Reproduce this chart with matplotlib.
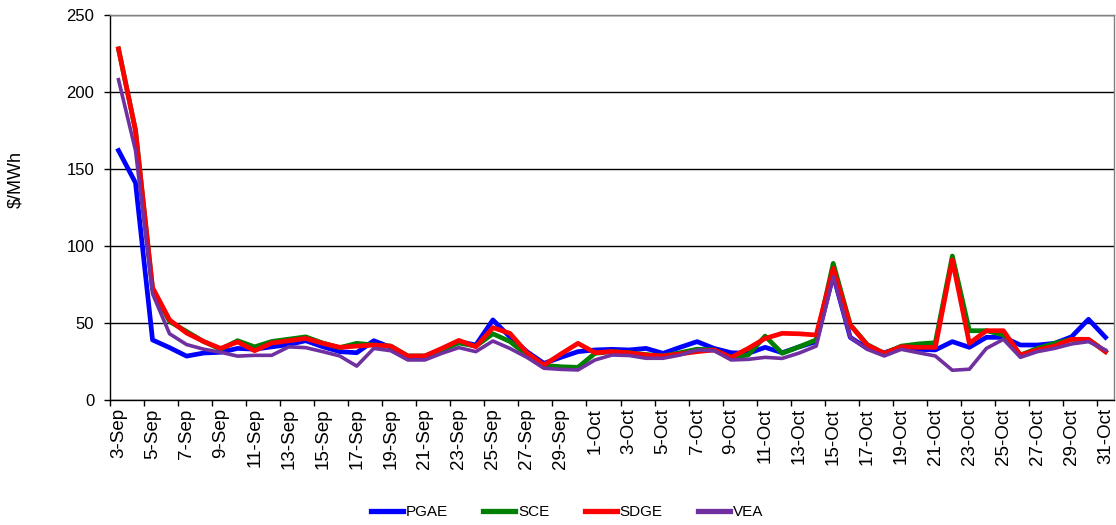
import numpy as np
import matplotlib
matplotlib.use('Agg')
import matplotlib.pyplot as plt
from matplotlib.ticker import FixedLocator

plt.rcParams['font.family'] = ['Liberation Sans', 'DejaVu Sans']

# daily dates, 3-Sep .. 31-Oct
dates = [f'{d}-Sep' for d in range(3, 31)] + [f'{d}-Oct' for d in range(1, 32)]

pgae = [162, 141, 39, 34, 28.5, 30.5, 31, 33.5, 33, 34.5, 36, 38.5, 34.6, 31.4, 30.7,
        38.5, 34.2, 28, 28, 33, 38, 35.7, 52, 41, 31.4, 23.8, 27.7, 31.4, 32.5, 32.9,
        32.5, 33.5, 30.3, 34.2, 37.9, 33.5, 30.7, 30.3, 34.2, 30.7, 34.5, 37.9, 81, 40.7,
        33.5, 30.7, 34.2, 32.9, 32.5, 37.9, 34.2, 40.7, 40.7, 35.7, 35.7, 36.8, 41, 52.4, 40.7]
sce = [228, 175, 72, 51, 44.5, 38, 33, 38.5, 34.5, 38, 39.5, 41, 37, 34, 36.8,
       35.7, 35, 28.6, 28.6, 32.5, 37, 35, 43, 38, 29.2, 22.5, 21.6, 21.2, 30.3, 31.4,
       30.7, 29.5, 28.6, 30.7, 33, 32.5, 27.7, 29.2, 41.5, 30.3, 34.6, 39, 88.7, 48.9,
       36, 30.3, 35, 36.4, 37.2, 93.5, 45, 45, 42.2, 29.2, 33.5, 36.8, 39.4, 39.4, 31.4]
sdge = [228, 175, 73, 52, 43.5, 38, 33.5, 37.7, 32, 37, 38.5, 40, 36.8, 34.2, 35,
        35.7, 35, 28.6, 28.6, 33.5, 38.7, 34.6, 47, 43.3, 30.7, 22.7, 29.9, 36.8, 30.7, 31.4,
        30.7, 29.2, 28.6, 29.9, 31.4, 32.5, 27.7, 33.5, 40, 43.3, 43, 42.2, 85.5, 48.7,
        35.7, 30.3, 34.6, 34.2, 34.2, 91, 36.8, 45, 45, 29.2, 32.5, 35, 39.4, 39.4, 31.4]
vea = [208, 162, 69, 43, 36, 33, 31, 28.5, 29, 29, 34.5, 34, 31.4, 28.6, 22,
       33.5, 32, 26, 26, 30.3, 34, 31.4, 38.3, 33.5, 27.7, 20.6, 19.9, 19.5, 26, 29.2,
       28.9, 27.1, 27.1, 29.2, 32.5, 32, 26, 26.4, 27.7, 27, 30.5, 35, 80, 40.7,
       32.9, 28.6, 32.9, 30.7, 28.6, 19.3, 20, 33.5, 39.4, 27.7, 31.4, 33.5, 36.4, 37.9, 32.5]

fig = plt.figure(figsize=(11.16, 5.25), dpi=100)
ax = fig.add_axes([110/1116, 1 - 400/525, 1004/1116, 385/525])

x = np.arange(len(dates))
ax.plot(x, pgae, color='#0000FF', lw=3.4, label='PGAE')
ax.plot(x, sce, color='#008000', lw=3.4, label='SCE')
ax.plot(x, sdge, color='#FF0000', lw=3.4, label='SDGE')
ax.plot(x, vea, color='#7030A0', lw=2.6, label='VEA')

ax.set_xlim(-0.5, len(dates) - 0.5)
ax.set_ylim(0, 250)
ax.set_yticks(range(0, 251, 50))
ax.yaxis.grid(True, color='black', lw=1.0)
ax.set_axisbelow(True)
ax.tick_params(axis='y', labelsize=12, length=4.3, width=1, direction='out', pad=7)
ax.set_ylabel('$/MWh', fontsize=13)
ax.yaxis.set_label_coords(-(110 - 24)/1004, (400 - 180)/385)

# ticks at category boundaries, labels at category centres
ax.xaxis.set_major_locator(FixedLocator(np.arange(-0.5, len(dates) - 1, 2)))
ax.xaxis.set_minor_locator(FixedLocator(x[::2]))
ax.set_xticklabels([], minor=False)
ax.set_xticklabels(dates[::2], minor=True, rotation=90, fontsize=13.5)
ax.tick_params(axis='x', which='major', length=4, width=1, direction='out')
ax.tick_params(axis='x', which='minor', length=0, pad=6)

for s in ax.spines.values():
    s.set_color('black')
    s.set_linewidth(1.0)
ax.spines['top'].set_color('#808080')
ax.spines['right'].set_color('#808080')

leg = fig.legend(loc='center', bbox_to_anchor=(567/1116, 1 - 512/525), ncol=4, frameon=False,
                 fontsize=11, handlelength=2.1, handletextpad=0.2, columnspacing=2.3)
for h in leg.legend_handles:
    h.set_linewidth(3.8)

fig.savefig('out.png', dpi=100)
